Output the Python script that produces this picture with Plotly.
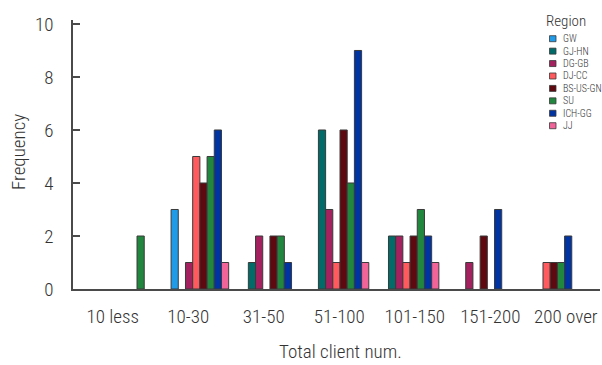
import plotly.graph_objects as go

# Client-count bins and how often each region falls in them
categories = ["10 less", "10-30", "31-50", "51-100", "101-150", "151-200", "200 over"]
regions = ["GW", "GJ-HN", "DG-GB", "DJ-CC", "BS-US-GN", "SU", "ICH-GG", "JJ"]

gw = [0, 3, 0, 0, 0, 0, 0]
gj_hn = [0, 0, 1, 6, 2, 0, 0]
dg_gb = [0, 1, 2, 3, 2, 1, 0]
dj_cc = [0, 5, 0, 1, 1, 0, 1]
bs_us_gn = [0, 4, 2, 6, 2, 2, 1]
su = [2, 5, 2, 4, 3, 0, 1]
ich_gg = [0, 6, 1, 9, 2, 3, 2]
jj = [0, 1, 0, 1, 1, 0, 0]

series = [gw, gj_hn, dg_gb, dj_cc, bs_us_gn, su, ich_gg, jj]
colors = ["#1f9be8", "#006b68", "#a3215e", "#ff5a5e",
          "#5e0810", "#22873e", "#0034a3", "#f0649a"]

W, H = 602, 365
L, R, T, B = 73, 2, 20, 76
FONT = "Roboto Condensed, Liberation Sans Narrow, Arial Narrow, DejaVu Sans Condensed, sans-serif"
WEIGHT = 300
TXT = "#333333"
AX = "#4a4a4a"

fig = go.Figure()
for name, vals, col in zip(regions, series, colors):
    fig.add_trace(go.Bar(
        name=name,
        x=categories,
        y=[v if v else None for v in vals],
        marker=dict(color=col, line=dict(color="#3a3a3a", width=1)),
        showlegend=False,
    ))

pw = W - L - R
ph = H - T - B


def px_x(px):
    return (px - L) / pw


def px_y(py):
    return (H - B - py) / ph


def fnt(size):
    return dict(family=FONT, size=size, color=TXT, weight=WEIGHT)


# Legend drawn as small outlined swatches with labels
shapes = []
annotations = []
leg_x0, leg_y0, leg_dy = 549.5, 38.7, 12.43
for i, (name, col) in enumerate(zip(regions, colors)):
    cy = leg_y0 + i * leg_dy
    shapes.append(dict(type="rect", xref="paper", yref="paper",
                       x0=px_x(leg_x0), x1=px_x(leg_x0 + 6.5),
                       y0=px_y(cy + 3), y1=px_y(cy - 3),
                       fillcolor=col, line=dict(color="#3a3a3a", width=0.8)))
    annotations.append(dict(text=name, xref="paper", yref="paper",
                            x=px_x(560.5), y=px_y(cy), xanchor="left", yanchor="middle",
                            showarrow=False, font=fnt(10)))
annotations.append(dict(text="Region", xref="paper", yref="paper",
                        x=px_x(565.5), y=px_y(21), xanchor="center", yanchor="middle",
                        showarrow=False, font=fnt(15)))

# Axis titles
annotations.append(dict(text="Total client num.", xref="paper", yref="paper",
                        x=px_x(340), y=px_y(351), xanchor="center", yanchor="middle",
                        showarrow=False, font=fnt(19)))
annotations.append(dict(text="Frequency", xref="paper", yref="paper", textangle=-90,
                        x=px_x(18), y=px_y(152), xanchor="center", yanchor="middle",
                        showarrow=False, font=fnt(19)))

fig.update_layout(
    width=W, height=H,
    margin=dict(l=L, r=R, t=T, b=B, pad=0),
    paper_bgcolor="white", plot_bgcolor="white",
    barmode="group", bargap=0.178, bargroupgap=0,
    font=fnt(12),
    shapes=shapes, annotations=annotations,
    xaxis=dict(type="category", range=[-0.811, 6.711], showticklabels=False,
               ticks="", showgrid=False, zeroline=False,
               showline=True, linecolor=AX, linewidth=1.5),
    xaxis2=dict(overlaying="x", side="bottom", range=[-0.527, 6.453],
                tickmode="array", tickvals=list(range(len(categories))), ticktext=categories,
                ticks="", showgrid=False, zeroline=False, showline=False,
                ticklabelstandoff=14, tickfont=fnt(19)),
    yaxis=dict(range=[0, 10.15], tickmode="array", tickvals=[0, 2, 4, 6, 8, 10],
               ticks="inside", ticklen=7, tickwidth=1.5, tickcolor=AX,
               showgrid=False, zeroline=False,
               showline=True, linecolor=AX, linewidth=1.5,
               ticklabelstandoff=14, tickfont=fnt(19)),
)

# Invisible trace that puts the secondary label axis on the page
fig.add_trace(go.Scatter(x=[0, 6], y=[0, 0], xaxis="x2", mode="markers",
                         marker=dict(opacity=0), hoverinfo="skip", showlegend=False))

fig.write_html("out.html")
